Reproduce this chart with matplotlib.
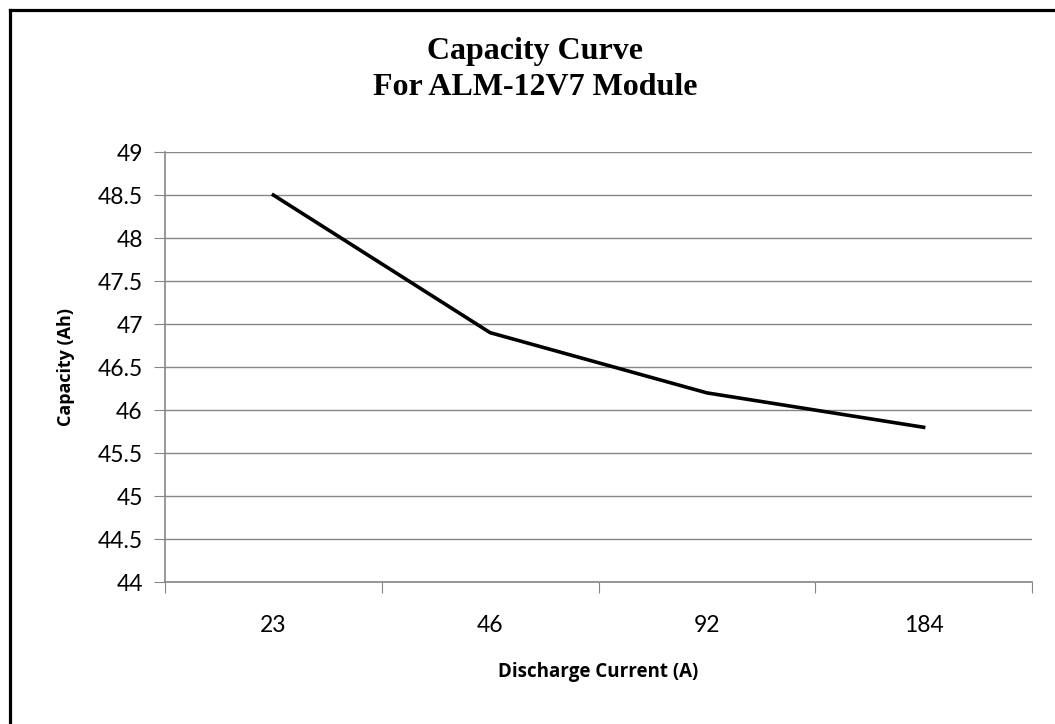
import matplotlib.pyplot as plt
import numpy as np
from matplotlib.lines import Line2D

currents = ["23", "46", "92", "184"]
capacity = [48.5, 46.9, 46.2, 45.8]
y_ticks = [44, 44.5, 45, 45.5, 46, 46.5, 47, 47.5, 48, 48.5, 49]
title_lines = ["Capacity Curve", "For ALM-12V7 Module"]

grid_col = "#868686"

fig = plt.figure(figsize=(10.55, 7.24), dpi=100)
ax = fig.add_axes([0.1564, 0.196, 0.8218, 0.594])

x = np.arange(len(currents))
ax.plot(x, capacity, color="black", lw=2.6, solid_joinstyle="round")

ax.set_xlim(-0.5, len(currents) - 0.5)
ax.set_ylim(44, 49)
ax.set_yticks(y_ticks)
ax.set_yticklabels([f"{v:g}" for v in y_ticks], fontfamily="Lato", fontsize=16.5)
ax.yaxis.grid(True, color=grid_col, lw=1)
ax.set_axisbelow(True)

# category boundaries get tick marks, labels sit in between
ax.set_xticks(np.arange(-0.5, len(currents), 1.0))
ax.set_xticklabels([])
ax.set_xticks(x, minor=True)
ax.set_xticklabels(currents, minor=True, fontfamily="Lato", fontsize=16.5)
ax.tick_params(axis="x", which="minor", length=0, pad=23.5)
ax.tick_params(axis="x", which="major", length=8, color=grid_col, direction="out")
ax.tick_params(axis="y", length=8, color=grid_col, direction="out", pad=8)

for s in ["top", "right"]:
    ax.spines[s].set_visible(False)
for s in ["left", "bottom"]:
    ax.spines[s].set_color(grid_col)
    ax.spines[s].set_linewidth(1.2)

ax.set_xlabel("Discharge Current (A)", fontfamily="Open Sans", fontweight="bold",
              fontsize=13.5, labelpad=19)
ax.set_ylabel("Capacity (Ah)", fontfamily="Open Sans", fontweight="bold",
              fontsize=13, labelpad=16)

# title, two lines
tx = 535 / 1055
fig.text(tx, 1 - 59 / 724, title_lines[0], ha="center", va="baseline",
         fontfamily="Liberation Serif", fontweight="bold", fontsize=23)
fig.text(tx, 1 - 95 / 724, title_lines[1], ha="center", va="baseline",
         fontfamily="Liberation Serif", fontweight="bold", fontsize=23)

# chart frame: only left and top edges are inside the picture
bx, by = 9.5 / 1055, 1 - 9.5 / 724
fig.lines.append(Line2D([bx, bx], [0, by], transform=fig.transFigure, color="black", lw=2.3))
fig.lines.append(Line2D([bx, 1], [by, by], transform=fig.transFigure, color="black", lw=2.3))

fig.savefig("out.png", dpi=100)
